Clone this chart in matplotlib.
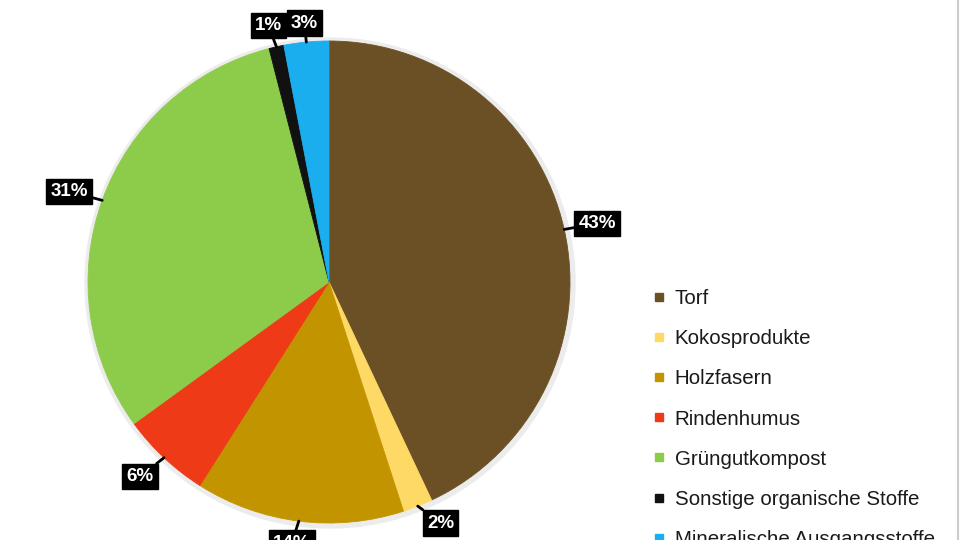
import matplotlib
matplotlib.use("Agg")
import matplotlib.pyplot as plt
from matplotlib.lines import Line2D
import numpy as np

categories = ["Torf", "Kokosprodukte", "Holzfasern", "Rindenhumus",
              "Grüngutkompost", "Sonstige organische Stoffe", "Mineralische Ausgangsstoffe"]
values = [43, 2, 14, 6, 31, 1, 3]
labels = ["43%", "2%", "14%", "6%", "31%", "1%", "3%"]
colors = ["#6A5024", "#FFD966", "#C29500", "#EE3A16", "#8DCB4B", "#111111", "#1BAEEE"]

# label offsets (pixels, relative to wedge edge midpoint) - layout only
offsets = [(33, 6), (23, -17), (-7, -22), (-24, -19), (-33, 9), (-8, 21), (-2, 19)]

plt.rcParams['font.family'] = ['Liberation Sans', 'DejaVu Sans']

W, H = 960, 540
fig = plt.figure(figsize=(9.6, 5.4), dpi=100)
ax = fig.add_axes([0, 0, 1, 1])

cx, cy, R = 329, 540 - 282, 241

# subtle halo
halo = plt.Circle((cx + 1, cy - 1), R + 4, color="#ececec", zorder=0)
ax.add_patch(halo)

wedges, _ = ax.pie(values, colors=colors, startangle=90, counterclock=False,
                   center=(cx, cy), radius=R, frame=True,
                   wedgeprops=dict(linewidth=0.6, antialiased=True))
for w, c in zip(wedges, colors):
    w.set_edgecolor(c)
ax.set_xlim(0, W)
ax.set_ylim(0, H)
ax.set_aspect('equal')
ax.axis('off')

for w, lab, off in zip(wedges, labels, offsets):
    ang = np.deg2rad((w.theta1 + w.theta2) / 2)
    ex = cx + R * np.cos(ang)
    ey = cy + R * np.sin(ang)
    ax.annotate(lab, xy=(ex, ey), xytext=(off[0], off[1]), textcoords='offset pixels',
                ha='center', va='center', color='white', fontsize=13.5, fontweight='bold',
                bbox=dict(boxstyle='square,pad=0.22', fc='black', ec='black'),
                arrowprops=dict(arrowstyle='-', color='black', lw=2,
                                shrinkA=0, shrinkB=0),
                zorder=5)

handles = [Line2D([0], [0], marker='s', linestyle='none', markersize=6,
                  markerfacecolor=c, markeredgecolor=c) for c in colors]
leg = ax.legend(handles, categories, loc='upper left',
                bbox_to_anchor=(653 / W, 1 - 289 / H), bbox_transform=fig.transFigure,
                frameon=False, fontsize=14.8, labelspacing=1.03,
                handlelength=0.6, handletextpad=0.45, borderpad=0, borderaxespad=0)
for t in leg.get_texts():
    t.set_color("#1a1a1a")

fig.add_artist(Line2D([958 / W, 958 / W], [0, 1], color="#cccccc", lw=1.5,
                      transform=fig.transFigure))

fig.savefig("out.png", dpi=100)
